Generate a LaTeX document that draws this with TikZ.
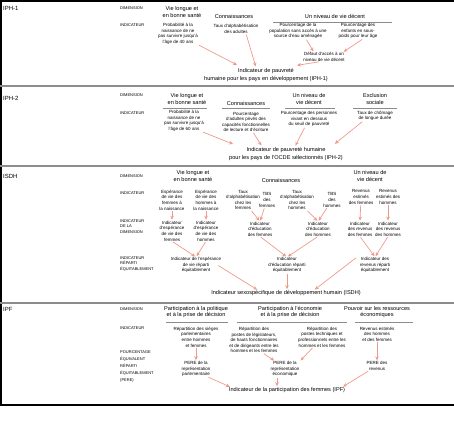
\documentclass[tikz,border=0pt]{standalone}
\usepackage{fontspec}
\setmainfont{Liberation Sans}
\usetikzlibrary{arrows.meta,calc}
\definecolor{linkred}{HTML}{EE9A8A}
\definecolor{sectrule}{HTML}{8C8C8C}

\begin{document}
\begin{tikzpicture}[x=1pt,y=-1pt,
  sect/.style={anchor=west,inner sep=0pt,font=\fontsize{6}{7}\selectfont},
  rowlab/.style={anchor=west,align=left,inner sep=0pt,
    font=\fontsize{4}{5.6}\selectfont},
  dim/.style={align=center,inner sep=0pt,font=\fontsize{5.6}{6.6}\selectfont},
  ind/.style={align=center,inner sep=0pt,font=\fontsize{4.5}{5.6}\selectfont},
  res/.style={align=center,inner sep=0pt,font=\fontsize{5.6}{7.4}\selectfont},
  link/.style={-{Stealth[length=4pt,width=3.6pt]},line width=.7pt,
    draw=linkred,shorten <=1pt,shorten >=1pt},
  dimrule/.style={draw=black!45,line width=.4pt}
]
\useasboundingbox (0,0) rectangle (454,426);
% frame and section rules
\draw[line width=1.5pt] (0,.75) -- (454,.75);
\draw[line width=1.5pt] (.75,0) -- (.75,405);
\draw[line width=1.5pt] (0,405) -- (454,405);
\foreach \y in {86,166,303} {
  \draw[sectrule,line width=1.2pt] (0,\y) -- (454,\y);
}

% IPH-1
\node[sect] (iph1) at (3,8) {IPH-1};
\node[rowlab] (iph1-dimlab) at (120,8) {DIMENSION};
\node[rowlab] (iph1-indlab) at (120,25) {INDICATEUR};
\node[dim] (iph1-dim-1) at (182,12) {Vie longue et\\en bonne santé};
\node[dim] (iph1-dim-2) at (234,16) {Connaissances};
\node[dim] (iph1-dim-3) at (335,16) {Un niveau de vie décent};
\draw[dimrule] (273,22) -- (392,22);
\node[ind] (iph1-ind-1) at (178,34)
  {Probabilité à la\\naissance de ne\\pas survivre jusqu'à\\l'âge de 40 ans};
\node[ind] (iph1-ind-2) at (236,29) {Taux d'alphabétisation\\des adultes};
\node[ind] (iph1-ind-3) at (298,31)
  {Pourcentage de la\\population sans accès à une\\source d'eau aménagée};
\node[ind] (iph1-ind-4) at (358,31)
  {Pourcentage des\\enfants en sous-\\poids pour leur âge};
\node[ind] (iph1-lack) at (324,57) {Défaut d'accès à un\\niveau de vie décent};
\node[res] (iph1-res) at (266,75)
  {Indicateur de pauvreté\\humaine pour les pays en développement (IPH-1)};
\draw[link] (iph1-ind-1.south east) -- ([xshift=-28,yshift=3]iph1-res.north);
\draw[link] ([xshift=10]iph1-ind-2.south) -- ([xshift=-10,yshift=1]iph1-res.north);
\draw[link] ([xshift=8]iph1-ind-3.south) -- ([xshift=-10]iph1-lack.north);
\draw[link] ([xshift=5]iph1-ind-4.south) -- ([xshift=-2]iph1-lack.north east);
\draw[link] ([xshift=-4]iph1-lack.south) -- ([xshift=30,yshift=3]iph1-res.north);

% IPH-2
\node[sect] (iph2) at (3,98) {IPH-2};
\node[rowlab] (iph2-dimlab) at (120,95) {DIMENSION};
\node[rowlab] (iph2-indlab) at (120,113) {INDICATEUR};
\node[dim] (iph2-dim-1) at (187,99) {Vie longue et\\en bonne santé};
\node[dim] (iph2-dim-2) at (246,103) {Connaissances};
\node[dim] (iph2-dim-3) at (309,99) {Un niveau de\\vie décent};
\node[dim] (iph2-dim-4) at (375,99) {Exclusion\\sociale};
\foreach \a/\b in {163/207,222/270,285/335,353/397} {
  \draw[dimrule] (\a,108) -- (\b,108);
}
\node[ind] (iph2-ind-1) at (184,121)
  {Probabilité à la\\naissance de ne\\pas survivre jusqu'à\\l'âge de 60 ans};
\node[ind] (iph2-ind-2) at (246,122)
  {Pourcentage\\d'adultes privés des\\capacités fonctionnelles\\de lecture et d'écriture};
\node[ind] (iph2-ind-3) at (309,119)
  {Pourcentage des personnes\\vivant en dessous\\du seuil de pauvreté};
\node[ind] (iph2-ind-4) at (375,116) {Taux de chômage\\de longue durée};
\node[res] (iph2-res) at (286,154)
  {Indicateur de pauvreté humaine\\pour les pays de l'OCDE sélectionnés (IPH-2)};
\draw[link] ([xshift=-2]iph2-ind-1.south east) -- ([xshift=-52,yshift=3]iph2-res.north);
\draw[link] ([xshift=7]iph2-ind-2.south) -- ([xshift=-24,yshift=1]iph2-res.north);
\draw[link] ([xshift=-4]iph2-ind-3.south) -- ([xshift=9,yshift=1]iph2-res.north);
\draw[link] ([xshift=-12]iph2-ind-4.south) -- ([xshift=48,yshift=3]iph2-res.north);

% ISDH
\node[sect] (isdh) at (3,176) {ISDH};
\node[rowlab] (isdh-dimlab) at (120,176) {DIMENSION};
\node[rowlab] (isdh-indlab) at (120,193) {INDICATEUR};
\node[rowlab,anchor=north west] (isdh-dilab) at (120,219)
  {INDICATEUR\\DE LA\\DIMENSION};
\node[rowlab,anchor=north west] (isdh-eqlab) at (120,256)
  {INDICATEUR\\RÉPARTI\\ÉQUITABLEMENT};
\node[dim] (isdh-dim-1) at (193,176) {Vie longue et\\en bonne santé};
\node[dim] (isdh-dim-2) at (281,180) {Connaissances};
\node[dim] (isdh-dim-3) at (370,176) {Un niveau de\\vie décent};
\foreach \n/\x/\txt in {
    ef/172/{Espérance\\de vie des\\femmes à\\la naissance},
    eh/206/{Espérance\\de vie des\\hommes à\\la naissance},
    tf/243/{Taux\\d'alphabétisation\\chez les\\femmes},
    bf/267/{TBS\\des\\femmes},
    th/297/{Taux\\d'alphabétisation\\chez les\\hommes},
    bh/332/{TBS\\des\\hommes}} {
  \node[ind] (isdh-ind-\n) at (\x,200) {\txt};
}
\node[ind] (isdh-ind-rf) at (361,197) {Revenus\\estimés\\des femmes};
\node[ind] (isdh-ind-rh) at (388,197) {Revenus\\estimés des\\hommes};
\node[ind] (isdh-di-ef) at (172,231) {Indicateur\\d'espérance\\de vie des\\femmes};
\node[ind] (isdh-di-eh) at (206,231) {Indicateur\\d'espérance\\de vie des\\hommes};
\node[ind] (isdh-di-df) at (260,229) {Indicateur\\d'éducation\\des femmes};
\node[ind] (isdh-di-dh) at (318,229) {Indicateur\\d'éducation\\des hommes};
\node[ind] (isdh-di-rf) at (360,229) {Indicateur\\des revenus\\des femmes};
\node[ind] (isdh-di-rh) at (388,229) {Indicateur\\des revenus\\des hommes};
\node[ind] (isdh-eq-1) at (196,265)
  {Indicateur de l'espérance\\de vie réparti\\équitablement};
\node[ind] (isdh-eq-2) at (287,265)
  {Indicateur\\d'éducation réparti\\équitablement};
\node[ind] (isdh-eq-3) at (375,265)
  {Indicateur des\\revenus réparti\\équitablement};
\node[res] (isdh-res) at (286,293)
  {Indicateur sexospécifique de développement humain (ISDH)};
\foreach \a/\b in {ef/ef,eh/eh,tf/df,bf/df,th/dh,bh/dh,rf/rf,rh/rh} {
  \draw[link] (isdh-ind-\a) -- (isdh-di-\b.north);
}
\foreach \a/\b in {ef/1,eh/1,df/2,dh/2,rf/3,rh/3} {
  \draw[link] (isdh-di-\a.south) -- (isdh-eq-\b.north);
}
\draw[link] ([xshift=-4]isdh-eq-1.east) -- ([xshift=-28]isdh-res.north);
\draw[link] (isdh-eq-2.south) -- ([xshift=1]isdh-res.north);
\draw[link] ([xshift=-18]isdh-eq-3.north) -- ([xshift=28]isdh-res.north);

% IPF
\node[sect] (ipf) at (3,309) {IPF};
\node[rowlab] (ipf-dimlab) at (120,309) {DIMENSION};
\node[rowlab] (ipf-indlab) at (120,328) {INDICATEUR};
\node[rowlab,anchor=north west,font=\fontsize{4}{7.2}\selectfont]
  (ipf-perelab) at (120,350)
  {POURCENTAGE\\ÉQUIVALENT\\RÉPARTI\\ÉQUITABLEMENT\\(PERE)};
\node[dim] (ipf-dim-1) at (196,312)
  {Participation à la politique\\et à la prise de décision};
\node[dim] (ipf-dim-2) at (290,312)
  {Participation à l'économie\\et à la prise de décision};
\node[dim] (ipf-dim-3) at (377,312)
  {Pouvoir sur les ressources\\économiques};
\foreach \a/\b in {166/228,237/347,355/413} {
  \draw[dimrule] (\a,322) -- (\b,322);
}
\node[ind] (ipf-ind-1) at (196,337)
  {Répartition des sièges\\parlementaires\\entre hommes\\et femmes};
\node[ind] (ipf-ind-2) at (254,340)
  {Répartition des\\postes de législateurs,\\de hauts fonctionnaires\\et de dirigeants entre les\\hommes et les femmes};
\node[ind] (ipf-ind-3) at (322,337)
  {Répartition des\\postes techniques et\\professionnels entre les\\hommes et les femmes};
\node[ind] (ipf-ind-4) at (377,334) {Revenus estimés\\des hommes\\et des femmes};
\node[ind] (ipf-pere-1) at (196,369) {PERE de la\\représentation\\parlementaire};
\node[ind] (ipf-pere-2) at (285,369) {PERE de la\\représentation\\économique};
\node[ind] (ipf-pere-3) at (377,366) {PERE des\\revenus};
\node[res] (ipf-res) at (287,390)
  {Indicateur de la participation des femmes (IPF)};
\draw[link] (ipf-ind-1.south) -- (ipf-pere-1.north);
\draw[link] ([xshift=9]ipf-ind-2.south) -- ([xshift=-10]ipf-pere-2.north);
\draw[link] ([xshift=-9]ipf-ind-3.south) -- ([xshift=15]ipf-pere-2.north);
\draw[link] (ipf-ind-4.south) -- (ipf-pere-3.north);
\draw[link] ([xshift=-3]ipf-pere-1.south east) -- ([xshift=2]ipf-res.north west);
\draw[link] ([xshift=-8]ipf-pere-2.south) -- ([xshift=-10]ipf-res.north);
\draw[link] ([xshift=-8]ipf-pere-3.south) -- ([xshift=-3]ipf-res.north east);
\end{tikzpicture}
\end{document}
